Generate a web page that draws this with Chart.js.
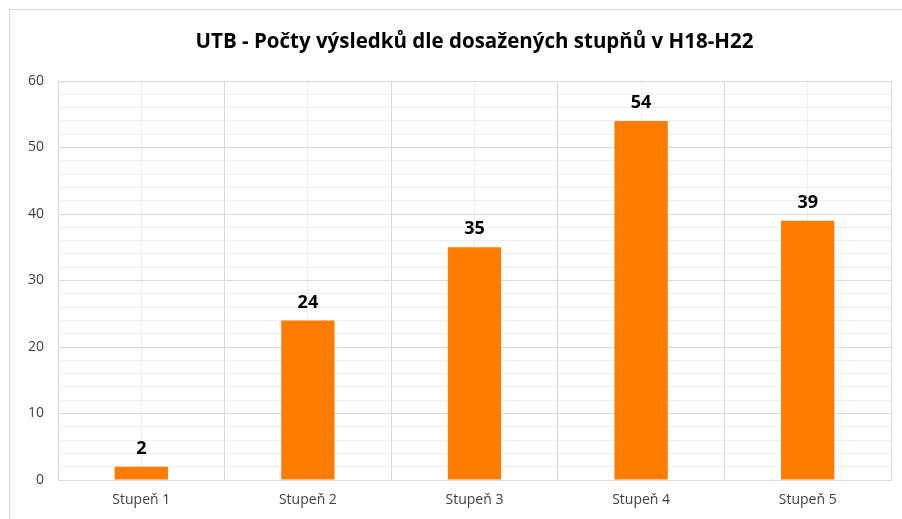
<!DOCTYPE html>
<html lang="cs">
<head>
  <meta charset="UTF-8" />
  <title>UTB - Počty výsledků</title>
  <script src="https://cdn.jsdelivr.net/npm/chart.js"></script>
  <style>
    html, body { margin: 0; padding: 0; background: #fff; overflow: hidden; }
    #wrap { position: relative; width: 902px; height: 519px; overflow: hidden; }
    #frame { position: absolute; left: 9px; top: 9px; width: 910px; height: 530px; border: 1px solid #d9d9d9; box-sizing: border-box; pointer-events: none; }
  </style>
</head>
<body>
  <div id="wrap">
    <canvas id="chart" width="902" height="519"></canvas>
    <div id="frame"></div>
  </div>

  <script>
    const labels = ['Stupeň 1', 'Stupeň 2', 'Stupeň 3', 'Stupeň 4', 'Stupeň 5'];
    const counts = [2, 24, 35, 54, 39];
    const titleText = 'UTB - Počty výsledků dle dosažených stupňů v H18-H22';

    const FONT = "'Open Sans', 'Noto Sans', sans-serif";

    // value labels above bars
    const valueLabels = {
      id: 'valueLabels',
      afterDatasetsDraw(chart) {
        const ctx = chart.ctx;
        const meta = chart.getDatasetMeta(0);
        ctx.save();
        ctx.font = 'bold 18px ' + FONT;
        ctx.fillStyle = '#000';
        ctx.textAlign = 'center';
        ctx.textBaseline = 'bottom';
        meta.data.forEach((bar, i) => {
          ctx.fillText(counts[i], bar.x, bar.y - 9);
        });
        ctx.restore();
      }
    };

    new Chart(document.getElementById('chart'), {
      type: 'bar',
      data: {
        labels: labels,
        datasets: [{
          data: counts,
          backgroundColor: '#ff7c00',
          categoryPercentage: 1,
          barPercentage: 0.32
        }]
      },
      options: {
        responsive: false,
        animation: false,
        layout: { padding: { left: 9, right: 11, top: 0, bottom: 0 } },
        plugins: {
          legend: { display: false },
          tooltip: { enabled: false },
          title: {
            display: true,
            fullSize: false, // centre over the plot area, not the whole canvas
            text: titleText,
            color: '#000',
            font: { family: FONT, size: 20.5, weight: 'bold', lineHeight: 1.2 },
            padding: { top: 30, bottom: 26.4 }
          }
        },
        scales: {
          x: {
            grid: { color: '#d9d9d9', lineWidth: 1, drawTicks: false, offset: true },
            border: { color: '#d9d9d9' },
            ticks: { color: '#404040', font: { family: FONT, size: 14 }, padding: 12 },
            afterFit: s => { s.height = 39; }
          },
          xMinor: {
            type: 'category',
            position: 'bottom',
            offset: true,
            grid: { color: '#eeeeee', lineWidth: 1, drawTicks: false, offset: false, z: -2 },
            border: { display: false },
            ticks: { display: false },
            afterFit: s => { s.height = 0; }
          },
          y: {
            min: 0,
            max: 60,
            ticks: { stepSize: 10, color: '#404040', font: { family: FONT, size: 14 }, padding: 14 },
            grid: { color: '#d9d9d9', lineWidth: 1, drawTicks: false },
            border: { display: false },
            afterFit: s => { s.width = 49; }
          },
          yMinor: {
            min: 0,
            max: 60,
            position: 'left',
            ticks: { display: false, stepSize: 2 },
            grid: { color: '#eeeeee', lineWidth: 1, drawTicks: false, z: -2 },
            border: { display: false },
            afterFit: s => { s.width = 0; }
          }
        }
      },
      plugins: [valueLabels]
    });
  </script>
</body>
</html>
